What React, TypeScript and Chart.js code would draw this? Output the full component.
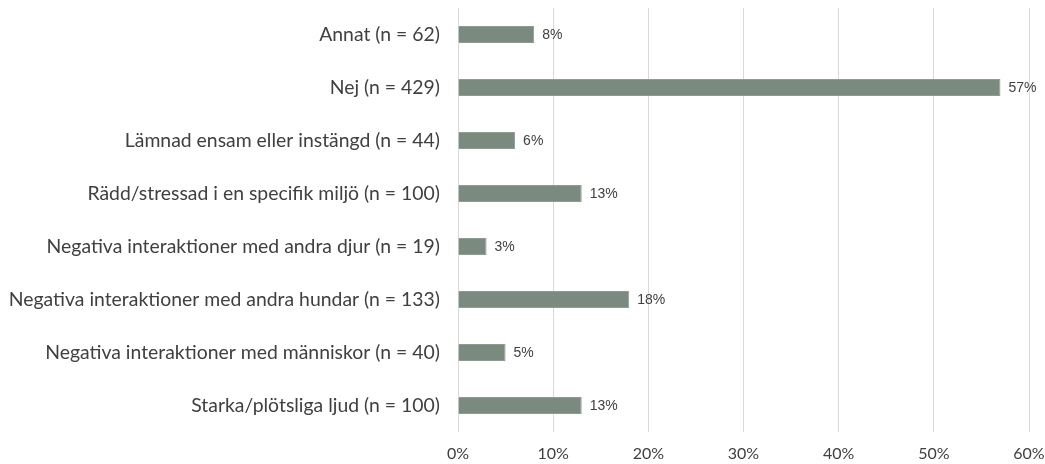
import React, { useEffect, useRef } from "react";
import { Chart, registerables } from "chart.js";

Chart.register(...registerables);

const categories = [
  "Annat (n = 62)",
  "Nej (n = 429)",
  "Lämnad ensam eller instängd (n = 44)",
  "Rädd/stressad i en specifik miljö (n = 100)",
  "Negativa interaktioner med andra djur (n = 19)",
  "Negativa interaktioner med andra hundar (n = 133)",
  "Negativa interaktioner med människor (n = 40)",
  "Starka/plötsliga ljud (n = 100)",
];
const values = [8, 57, 6, 13, 3, 18, 5, 13];
const valueLabels = ["8%", "57%", "6%", "13%", "3%", "18%", "5%", "13%"];
const xTicks = [0, 10, 20, 30, 40, 50, 60];

const labelPlugin = {
  id: "barLabels",
  afterDatasetsDraw(chart: any) {
    const ctx = chart.ctx;
    const meta = chart.getDatasetMeta(0);
    ctx.save();
    ctx.font = "14px 'Liberation Sans', Arial, sans-serif";
    ctx.fillStyle = "#404040";
    ctx.textAlign = "left";
    ctx.textBaseline = "middle";
    meta.data.forEach((bar: any, i: number) => {
      ctx.fillText(valueLabels[i], bar.x + 8, bar.y + 1);
    });
    ctx.restore();
  },
};

export default function App() {
  const ref = useRef<HTMLCanvasElement>(null);
  useEffect(() => {
    document.body.style.margin = "0";
    const chart = new Chart(ref.current!, {
      type: "bar",
      data: {
        labels: categories,
        datasets: [
          {
            data: values,
            backgroundColor: "#7a8a7e",
            borderColor: "#8e9c91",
            borderWidth: 1,
            barPercentage: 0.32,
            categoryPercentage: 1,
          },
        ],
      },
      options: {
        indexAxis: "y",
        animation: false,
        responsive: false,
        maintainAspectRatio: false,
        layout: { padding: { top: 8, right: 16, bottom: 0, left: 0 } },
        plugins: { legend: { display: false }, tooltip: { enabled: false } },
        scales: {
          x: {
            min: 0,
            max: 60,
            afterBuildTicks(scale: any) {
              scale.ticks = xTicks.map((v) => ({ value: v }));
            },
            afterFit(scale: any) {
              scale.height = 32;
              scale.paddingLeft = 0;
              scale.paddingRight = 0;
            },
            grid: { color: "#d9d9d9", lineWidth: 1, drawTicks: false },
            border: { display: false },
            ticks: {
              padding: 12,
              color: "#404040",
              font: { family: "Lato, 'Noto Sans', sans-serif", size: 16 },
              callback: (v: any) => v + "%",
            },
          },
          y: {
            afterFit(scale: any) {
              scale.width = 458;
              scale.paddingTop = 0;
              scale.paddingBottom = 0;
            },
            grid: { display: false, drawTicks: false },
            border: { display: false },
            ticks: {
              padding: 18,
              color: "#404040",
              font: { family: "Lato, 'Noto Sans', sans-serif", size: 19.4 },
            },
          },
        },
      },
      plugins: [labelPlugin],
    });
    return () => chart.destroy();
  }, []);
  return <canvas ref={ref} width={1045} height={464} style={{ display: "block" }} />;
}
